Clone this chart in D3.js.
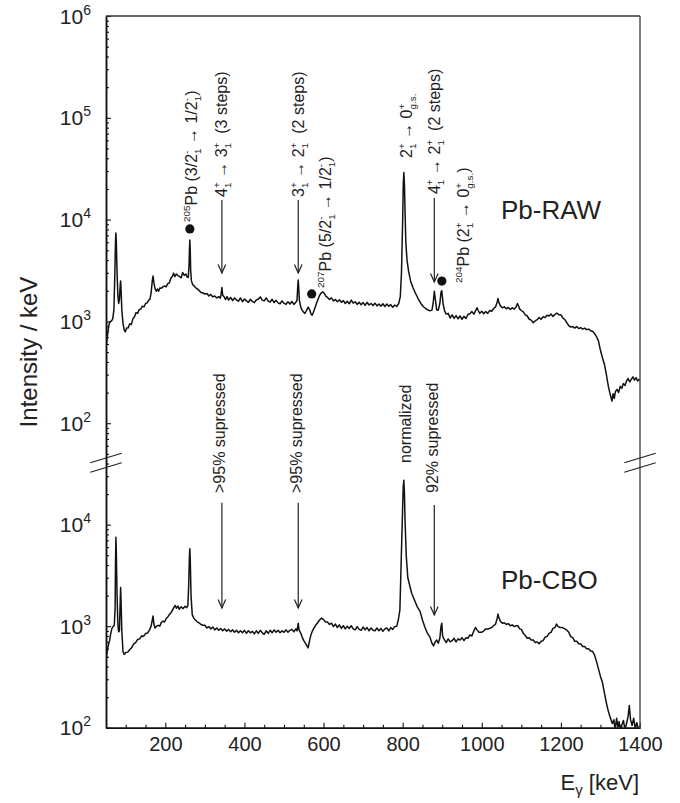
<!DOCTYPE html>
<html>
<head>
<meta charset="utf-8">
<script src="https://cdn.jsdelivr.net/npm/d3@7"></script>
<style>
  html, body { margin: 0; padding: 0; background: #fff; }
  svg { display: block; font-family: "Liberation Sans", Arial, sans-serif; }
  text { white-space: pre; }
</style>
</head>
<body>
<svg id="chart" width="680" height="803"></svg>
<script>
// ---- data -------------------------------------------------------------
// energy tick labels (keV)
const energyTicks = [200, 400, 600, 800, 1000, 1200, 1400];
// decades labelled on the two intensity axes
const rawDecades = [2, 3, 4, 5, 6];
const cboDecades = [2, 3, 4];

// Pb-RAW spectrum: [E (keV), intensity per keV]
const rawSpectrum = [
  [50,560],[52,640],[55,800],[58,950],[61,1000],[64,1010],[67,1060],[70,1300],[72,2600],[74,6000],
  [75,7400],[76,6200],[78,3000],[80,1800],[82,1500],[84,1650],[86,2300],[87,2500],[88,2100],[90,1300],
  [93,950],[96,820],[99,790],[102,860],[106,860],[110,950],[114,930],[118,1060],[122,1110],[126,1220],
  [130,1200],[134,1310],[138,1320],[142,1410],[146,1390],[150,1500],[154,1520],[158,1620],[161,1650],[164,1900],
  [167,2500],[169,2800],[171,2400],[174,2100],[177,1980],[180,2080],[183,1980],[186,2130],[190,2120],[194,2180],
  [198,2230],[202,2180],[206,2350],[210,2380],[214,2650],[218,2780],[221,2980],[224,2760],[228,2920],[232,2820],
  [236,2760],[240,2680],[244,3020],[248,2830],[252,2920],[255,2740],[258,2700],[260,3600],[261,5200],[262,6300],
  [263,5000],[264,3200],[266,2500],[269,2300],[272,2250],[276,2150],[280,2100],[285,2020],[290,1920],[295,1900],
  [300,1860],[305,1880],[310,1780],[315,1840],[320,1740],[325,1780],[330,1700],[335,1750],[339,1690],[341,1850],
  [343,2150],[345,1800],[348,1760],[352,1640],[356,1750],[360,1620],[365,1720],[370,1600],[375,1700],[380,1620],
  [385,1580],[390,1700],[395,1560],[400,1660],[405,1590],[410,1540],[415,1650],[420,1570],[425,1530],[430,1620],
  [435,1660],[440,1740],[445,1620],[450,1590],[455,1700],[460,1580],[465,1550],[470,1650],[475,1530],[480,1610],
  [485,1520],[490,1490],[495,1590],[500,1510],[505,1470],[510,1560],[515,1480],[520,1570],[525,1470],[530,1540],
  [533,1620],[535,2300],[536,2550],[537,2200],[539,1600],[542,1400],[545,1300],[549,1240],[553,1200],[557,1280],
  [561,1380],[565,1300],[568,1190],[571,1150],[574,1220],[578,1350],[582,1500],[586,1650],[590,1800],[594,1900],
  [598,1950],[602,1880],[606,1760],[610,1720],[615,1640],[620,1700],[625,1590],[630,1640],[635,1560],[640,1630],
  [645,1540],[650,1600],[655,1500],[660,1580],[665,1490],[670,1620],[675,1510],[680,1560],[685,1470],[690,1540],
  [695,1460],[700,1530],[705,1440],[710,1540],[715,1450],[720,1500],[725,1430],[730,1510],[735,1420],[740,1480],
  [745,1410],[750,1490],[755,1400],[760,1480],[765,1410],[770,1460],[775,1380],[780,1450],[785,1400],[790,1500],
  [794,1750],[797,3000],[800,10000],[801.5,22000],[803,29000],[804.5,22000],[806,12000],[808,6000],[811,4000],[815,3100],
  [820,2500],[826,2150],[832,1900],[840,1650],[846,1500],[852,1400],[858,1340],[863,1300],[869,1270],[874,1290],
  [877,1500],[880,1980],[883,1600],[886,1300],[890,1290],[894,1500],[897,1950],[899,2000],[902,1500],[906,1270],
  [910,1180],[915,1200],[920,1080],[925,1160],[930,1070],[935,1140],[940,1060],[945,1130],[950,1050],[955,1120],
  [960,1070],[965,1170],[970,1190],[975,1250],[980,1180],[985,1290],[988,1360],[991,1280],[995,1200],[1000,1260],
  [1005,1190],[1010,1250],[1015,1200],[1020,1280],[1025,1260],[1030,1340],[1035,1390],[1039,1550],[1041,1680],[1043,1550],
  [1047,1420],[1052,1360],[1057,1390],[1062,1330],[1067,1370],[1072,1310],[1077,1360],[1082,1320],[1087,1390],[1090,1500],
  [1092,1450],[1096,1320],[1100,1280],[1105,1240],[1110,1160],[1115,1130],[1120,1050],[1125,1030],[1130,970],[1135,1010],
  [1140,1040],[1145,1090],[1150,1050],[1155,1110],[1160,1090],[1165,1150],[1170,1130],[1175,1180],[1180,1120],[1185,1170],
  [1190,1210],[1195,1160],[1200,1160],[1205,1080],[1210,1040],[1215,970],[1220,910],[1225,880],[1230,890],[1235,860],
  [1240,890],[1245,850],[1250,870],[1255,840],[1260,860],[1265,830],[1270,840],[1275,810],[1280,800],[1285,760],
  [1290,710],[1295,640],[1300,520],[1305,440],[1310,380],[1315,300],[1320,230],[1325,190],[1329,165],[1332,195],
  [1335,175],[1338,205],[1342,215],[1346,200],[1350,230],[1354,220],[1358,245],[1362,235],[1366,260],[1370,275],
  [1374,255],[1378,270],[1382,285],[1386,265],[1390,280],[1394,260],[1398,270],[1400,262]
];

// Pb-CBO spectrum: [E (keV), intensity per keV]
const cboSpectrum = [
  [50,480],[53,560],[56,650],[59,720],[62,850],[65,950],[68,990],[71,1020],[73,1500],[74,4000],
  [75,7500],[76,5500],[78,2000],[80,1050],[82,880],[84,900],[86,1800],[87,2400],[88,1800],[90,900],
  [93,560],[96,527],[100,550],[105,555],[110,590],[115,615],[120,670],[125,690],[130,740],[135,750],
  [140,800],[145,795],[150,845],[155,855],[160,920],[164,1000],[167,1150],[169,1260],[171,1050],[174,960],
  [178,1000],[182,1020],[186,1000],[190,1090],[194,1120],[198,1100],[202,1190],[206,1230],[210,1300],[214,1350],
  [218,1440],[222,1540],[225,1600],[228,1500],[232,1580],[235,1470],[240,1550],[245,1490],[250,1570],[254,1520],
  [257,1600],[259,2500],[261,5000],[262,5800],[263,4500],[265,2000],[268,1300],[272,1200],[276,1150],[280,1110],
  [285,1080],[290,1040],[295,1020],[300,1020],[305,960],[310,990],[315,940],[320,980],[325,920],[330,960],
  [335,910],[340,950],[345,900],[350,940],[355,890],[360,930],[365,880],[370,920],[375,870],[380,910],
  [385,860],[390,900],[395,860],[400,910],[405,850],[410,900],[415,860],[420,890],[425,840],[430,900],
  [435,850],[440,910],[445,860],[450,830],[455,900],[460,850],[465,910],[470,860],[475,920],[480,870],
  [485,910],[490,860],[495,900],[500,870],[505,920],[510,870],[515,910],[520,930],[525,880],[530,940],
  [533,900],[536,1070],[538,920],[542,860],[546,780],[550,720],[554,680],[558,640],[561,610],[564,700],
  [568,820],[572,900],[576,960],[580,1020],[585,1080],[590,1150],[595,1200],[600,1160],[605,1100],[610,1100],
  [615,1040],[620,1070],[625,990],[630,1050],[635,970],[640,1030],[645,950],[650,1010],[655,940],[660,1000],
  [665,950],[670,1010],[675,940],[680,920],[685,990],[690,930],[695,910],[700,980],[705,920],[710,970],
  [715,900],[720,960],[725,910],[730,900],[735,960],[740,900],[745,950],[750,890],[755,940],[760,960],
  [765,900],[770,970],[775,930],[780,990],[785,1000],[789,1150],[793,1450],[797,5600],[800,15000],[801.5,24000],
  [803,27300],[804.5,20000],[806,11000],[809,5000],[813,3000],[818,2500],[823,2100],[830,1800],[837,1550],[844,1400],
  [850,1150],[856,980],[862,860],[869,780],[874,680],[878,640],[882,700],[886,730],[890,680],[894,760],
  [897,1000],[899,1070],[901,800],[905,740],[910,690],[915,750],[920,700],[925,720],[930,760],[935,700],
  [940,750],[945,730],[950,770],[955,720],[960,770],[965,760],[970,820],[975,800],[980,900],[984,970],
  [988,920],[993,870],[999,870],[1004,890],[1010,940],[1015,940],[1020,950],[1025,970],[1030,1010],[1035,1050],
  [1039,1200],[1041,1316],[1043,1220],[1047,1120],[1052,1070],[1057,1080],[1062,1040],[1067,1060],[1072,1010],[1077,1030],
  [1082,990],[1087,1010],[1091,1010],[1096,940],[1100,930],[1105,850],[1110,810],[1115,760],[1120,770],[1125,730],
  [1130,730],[1135,690],[1140,700],[1145,670],[1150,710],[1155,720],[1160,780],[1165,790],[1170,850],[1175,870],
  [1180,950],[1185,970],[1189,1047],[1193,990],[1198,970],[1203,970],[1208,950],[1214,920],[1220,870],[1225,790],
  [1230,770],[1235,710],[1240,710],[1245,670],[1250,670],[1255,630],[1260,630],[1265,600],[1270,600],[1275,570],
  [1280,565],[1285,520],[1290,450],[1295,380],[1300,320],[1305,280],[1310,220],[1315,175],[1320,145],[1325,125],
  [1330,110],[1334,120],[1337,95],[1341,124],[1344,100],[1347,115],[1351,90],[1354,106],[1358,118],[1362,96],
  [1366,110],[1370,130],[1373,165],[1376,120],[1380,105],[1384,124],[1388,98],[1392,112],[1396,95],[1400,106]
];

// Transition labels. Segments: ["t", text], ["sup", text], ["ss", sup, sub].
// kind: "dot" marks a contaminant line, "arrow" points at a line, "text" is a plain label.
// level = intensity where the label starts, mark = dot level or [arrow top, arrow tip].
const rawNotes = [
  { id: "pb205", energy: 262, kind: "dot", mark: 8100, level: 9460,
    label: [["sup","205"],["t","Pb (3/2"],["ss","-","1"],["t"," \u2192 1/2"],["ss","-","1"],["t",")"]] },
  { id: "t43", energy: 343, kind: "arrow", mark: [15600, 2985], level: 16700,
    label: [["t","4"],["ss","+","1"],["t"," \u2192 3"],["ss","+","1"],["t","  (3 steps)"]] },
  { id: "t32", energy: 536, kind: "arrow", mark: [15600, 2985], level: 16700,
    label: [["t","3"],["ss","+","1"],["t"," \u2192 2"],["ss","+","1"],["t","  (2 steps)"]] },
  { id: "pb207", energy: 570, kind: "dot", mark: 1860, level: 2130,
    label: [["sup","207"],["t","Pb (5/2"],["ss","-","1"],["t"," \u2192 1/2"],["ss","-","1"],["t",")"]] },
  { id: "t20", energy: 803, kind: "text", level: 40300,
    label: [["t","2"],["ss","+","1"],["t"," \u2192 0"],["ss","+","g.s."]] },
  { id: "t42", energy: 880, kind: "arrow", mark: [16300, 2440], level: 17800,
    label: [["t","4"],["ss","+","1"],["t"," \u2192 2"],["ss","+","1"],["t","  (2 steps)"]] },
  { id: "pb204", energy: 899, kind: "dot", mark: 2490, level: 2380,
    label: [["sup","204"],["t","Pb (2"],["ss","+","1"],["t"," \u2192 0"],["ss","+","g.s."],["t",")"]] }
];

const cboNotes = [
  { id: "s43", energy: 343, kind: "arrow", mark: [16400, 1510], level: 20500, label: [["t",">95% supressed"]] },
  { id: "s32", energy: 536, kind: "arrow", mark: [16400, 1510], level: 20500, label: [["t",">95% supressed"]] },
  { id: "s20", energy: 803, kind: "text", level: 40500, label: [["t","normalized"]] },
  { id: "s42", energy: 880, kind: "arrow", mark: [15600, 1290], level: 20500, label: [["t","92% supressed"]] }
];

// ---- layout -------------------------------------------------------------
const X0 = 106, X1 = 640, Y0 = 16, YB = 462.5, Y1 = 727.7;
const ink = "#111";

// sideways offset of each rotated label's baseline from its line position
const labelShift = { pb205: 7, t43: 5, t32: 5.5, pb207: 19.5, t20: 8, t42: 5.5, pb204: 27,
                     s43: 3.5, s32: 3.5, s20: 7, s42: 4 };

const svg = d3.select("#chart");

const x = d3.scaleLinear().domain([50, 1400]).range([X0, X1]);
const yRaw = d3.scaleLog().domain([Math.pow(10, 1.614), 1e6]).range([YB, Y0]);
const yCbo = d3.scaleLog().domain([100, Math.pow(10, 4.612)]).range([Y1, YB]);

const defs = svg.append("defs");
defs.append("clipPath").attr("id", "clipRaw")
  .append("rect").attr("x", X0).attr("y", Y0).attr("width", X1 - X0).attr("height", YB - Y0);
defs.append("clipPath").attr("id", "clipCbo")
  .append("rect").attr("x", X0).attr("y", YB).attr("width", X1 - X0).attr("height", Y1 - YB);

// ---- spectra -------------------------------------------------------------
function drawSpectrum(data, y, clip) {
  const line = d3.line().x(d => x(d[0])).y(d => y(d[1]));
  svg.append("path")
    .datum(data)
    .attr("clip-path", `url(#${clip})`)
    .attr("fill", "none")
    .attr("stroke", ink)
    .attr("stroke-width", 1.5)
    .attr("stroke-linejoin", "round")
    .attr("d", line);
}
drawSpectrum(rawSpectrum, yRaw, "clipRaw");
drawSpectrum(cboSpectrum, yCbo, "clipCbo");

// ---- axes -------------------------------------------------------------
function styleAxis(g) {
  g.attr("color", ink);
  g.selectAll(".domain").attr("stroke-width", 1.5);
  g.selectAll(".tick line").attr("stroke-width", 1.1);
}

function minorValues(y) {
  const [lo, hi] = y.domain();
  const out = [];
  for (let d = Math.floor(Math.log10(lo)); d <= Math.ceil(Math.log10(hi)); d++) {
    for (let k = 2; k <= 9; k++) {
      const v = k * Math.pow(10, d);
      if (v >= lo && v <= hi) out.push(v);
    }
  }
  return out;
}

function leftAxis(y, decades) {
  const majors = decades.map(d => Math.pow(10, d));
  svg.append("g").attr("transform", `translate(${X0},0)`)
    .call(d3.axisLeft(y).tickValues(majors).tickSize(-5).tickSizeOuter(0).tickFormat(""))
    .call(styleAxis);
  svg.append("g").attr("transform", `translate(${X0},0)`)
    .call(d3.axisLeft(y).tickValues(minorValues(y)).tickSize(-3).tickSizeOuter(0).tickFormat(""))
    .call(styleAxis);
  // power-of-ten labels
  decades.forEach(d => {
    const yy = y(Math.pow(10, d));
    const t = svg.append("text")
      .attr("x", 91).attr("y", yy + 7.5)
      .attr("text-anchor", "end")
      .attr("fill", "#222")
      .attr("font-size", 21);
    t.append("tspan").text("10");
    t.append("tspan").attr("font-size", 14).attr("dy", -9).text(d);
  });
}
leftAxis(yRaw, rawDecades);
leftAxis(yCbo, cboDecades);

// energy axis
const minorE = d3.range(100, 1400, 50).filter(v => !energyTicks.includes(v));
svg.append("g").attr("transform", `translate(0,${Y1})`)
  .call(d3.axisBottom(x).tickValues(minorE).tickSize(-3).tickSizeOuter(0).tickFormat(""))
  .call(styleAxis);
svg.append("g").attr("transform", `translate(0,${Y1})`)
  .call(d3.axisBottom(x).tickValues(energyTicks).tickSize(-5).tickSizeOuter(0).tickPadding(8.8).tickFormat(d3.format("d")))
  .call(styleAxis)
  .call(g => g.selectAll("text").attr("font-size", 20).attr("fill", "#222").attr("font-family", "Liberation Sans, Arial, sans-serif"));

// frame: top and right edges
svg.append("line").attr("x1", X0).attr("x2", X1).attr("y1", Y0).attr("y2", Y0)
  .attr("stroke", "#333").attr("stroke-width", 1.4);
svg.append("line").attr("x1", X1).attr("x2", X1).attr("y1", Y0).attr("y2", Y1)
  .attr("stroke", "#555").attr("stroke-width", 1.5);

// axis-break marks on both sides
[X0, X1].forEach(ax => {
  [458, 467.5].forEach(cy => {
    svg.append("line")
      .attr("x1", ax - 15.7).attr("y1", cy + 4.8)
      .attr("x2", ax + 15.7).attr("y2", cy - 4.8)
      .attr("stroke", "#222").attr("stroke-width", 1.2);
  });
});

// axis titles
svg.append("text")
  .attr("transform", "translate(37,352) rotate(-90)")
  .attr("text-anchor", "middle")
  .attr("font-size", 24)
  .attr("fill", "#222")
  .text("Intensity / keV");

const xt = svg.append("text")
  .attr("x", 639).attr("y", 790)
  .attr("text-anchor", "end")
  .attr("font-size", 22)
  .attr("fill", "#222");
xt.append("tspan").text("E");
xt.append("tspan").attr("font-size", 15).attr("dy", 5).text("\u03b3");
xt.append("tspan").attr("dy", -5).text(" [keV]");

// panel names
svg.append("text").attr("x", 501).attr("y", 219).attr("font-size", 26).attr("fill", "#222").text("Pb-RAW");
svg.append("text").attr("x", 501).attr("y", 589).attr("font-size", 26).attr("fill", "#222").text("Pb-CBO");

// ---- transition labels ---------------------------------------------------
function richText(g, segs, size) {
  const t = g.append("text").attr("font-size", size).attr("fill", "#222");
  const small = size * 0.62, up = -size * 0.42, down = size * 0.24;
  let shift = 0, pending = 0;
  segs.forEach(s => {
    if (s[0] === "t") {
      const sp = t.append("tspan").attr("font-size", size).attr("dy", -shift).text(s[1]);
      if (pending) sp.attr("dx", pending);
      pending = 0; shift = 0;
    } else if (s[0] === "sup") {
      const sp = t.append("tspan").attr("font-size", small).attr("dy", up - shift).text(s[1]);
      if (pending) sp.attr("dx", pending);
      pending = 0; shift = up;
    } else {
      const a = t.append("tspan").attr("font-size", small).attr("dy", up - shift).text(s[1]);
      if (pending) a.attr("dx", pending);
      const wa = a.node().getComputedTextLength();
      const b = t.append("tspan").attr("font-size", small).attr("dx", -wa).attr("dy", down - up).text(s[2]);
      const wb = b.node().getComputedTextLength();
      pending = wa > wb ? wa - wb : 0;
      shift = down;
    }
  });
  return t;
}

function drawNotes(notes, y) {
  notes.forEach(n => {
    const px = x(n.energy);
    if (n.kind === "dot") {
      svg.append("circle").attr("cx", px).attr("cy", y(n.mark)).attr("r", 4.6).attr("fill", ink);
    } else if (n.kind === "arrow") {
      const yTop = y(n.mark[0]), yTip = y(n.mark[1]);
      const a = svg.append("g").attr("stroke", "#222").attr("stroke-width", 1.2).attr("fill", "none");
      a.append("line").attr("x1", px).attr("x2", px).attr("y1", yTop).attr("y2", yTip);
      a.append("path").attr("d", `M${px - 3.8},${yTip - 8.5}L${px},${yTip}L${px + 3.8},${yTip - 8.5}`);
    }
    const g = svg.append("g")
      .attr("transform", `translate(${px + labelShift[n.id]},${y(n.level)}) rotate(-90)`);
    richText(g, n.label, 16);
  });
}
drawNotes(rawNotes, yRaw);
drawNotes(cboNotes, yCbo);
</script>
</body>
</html>
